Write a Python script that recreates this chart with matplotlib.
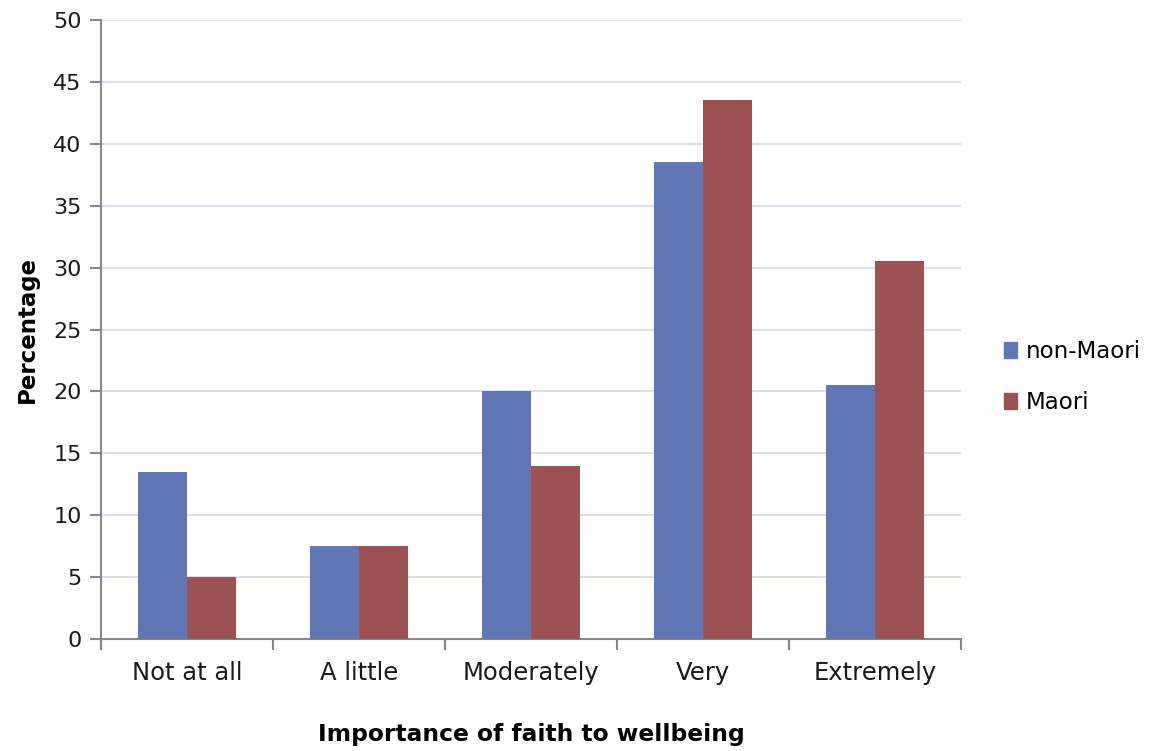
import matplotlib
matplotlib.use("Agg")
import matplotlib.pyplot as plt
from matplotlib.patches import Patch
import numpy as np

categories = ["Not at all", "A little", "Moderately", "Very", "Extremely"]
non_maori = [13.5, 7.5, 20.0, 38.5, 20.5]
maori = [5.0, 7.5, 14.0, 43.5, 30.5]
series_names = ["non-Maori", "Maori"]
y_ticks = [0, 5, 10, 15, 20, 25, 30, 35, 40, 45, 50]

blue = "#6176b4"
red = "#9c5252"
grid_col = "#d9dcee"
axis_col = "#888888"

plt.rcParams["font.family"] = ["DejaVu Sans"]

fig = plt.figure(figsize=(11.6, 7.51), dpi=100)
ax = fig.add_axes([101 / 1160, 1 - 639 / 751, 860 / 1160, 619 / 751])

x = np.arange(len(categories))
w = 0.285
ax.bar(x - w / 2, non_maori, w, color=blue, zorder=3)
ax.bar(x + w / 2, maori, w, color=red, zorder=3)

ax.set_xlim(-0.5, len(categories) - 0.5)
ax.set_ylim(0, 50)
ax.set_yticks(y_ticks)
ax.yaxis.grid(True, color=grid_col, linewidth=1.3, zorder=0)
ax.set_axisbelow(True)

ax.set_xticks(x)
ax.set_xticklabels(categories, fontsize=17.5, color="#1a1a1a")
ax.set_xticks(np.arange(-0.5, len(categories)), minor=True)
ax.tick_params(axis="x", which="major", length=0, pad=16)
ax.tick_params(axis="x", which="minor", length=8, width=1.5, color=axis_col, direction="out")
ax.tick_params(axis="y", length=8, width=1.5, color=axis_col, labelsize=16,
               labelcolor="#1a1a1a", pad=6)

for s in ["top", "right"]:
    ax.spines[s].set_visible(False)
for s in ["left", "bottom"]:
    ax.spines[s].set_color(axis_col)
    ax.spines[s].set_linewidth(1.5)

ax.set_ylabel("Percentage", fontsize=16.5, fontweight="bold", labelpad=10)
fig.text(531 / 1160, 1 - 735 / 751, "Importance of faith to wellbeing",
         fontsize=16.8, fontweight="bold", ha="center", va="center")

handles = [Patch(color=blue), Patch(color=red)]
fig.legend(handles, series_names, loc="center left", bbox_to_anchor=(983 / 1160, 1 - 377 / 751),
           frameon=False, fontsize=16.5, handlelength=0.6, handleheight=0.7,
           handletextpad=0.35, labelspacing=1.2)

fig.savefig("out.png", dpi=100)
